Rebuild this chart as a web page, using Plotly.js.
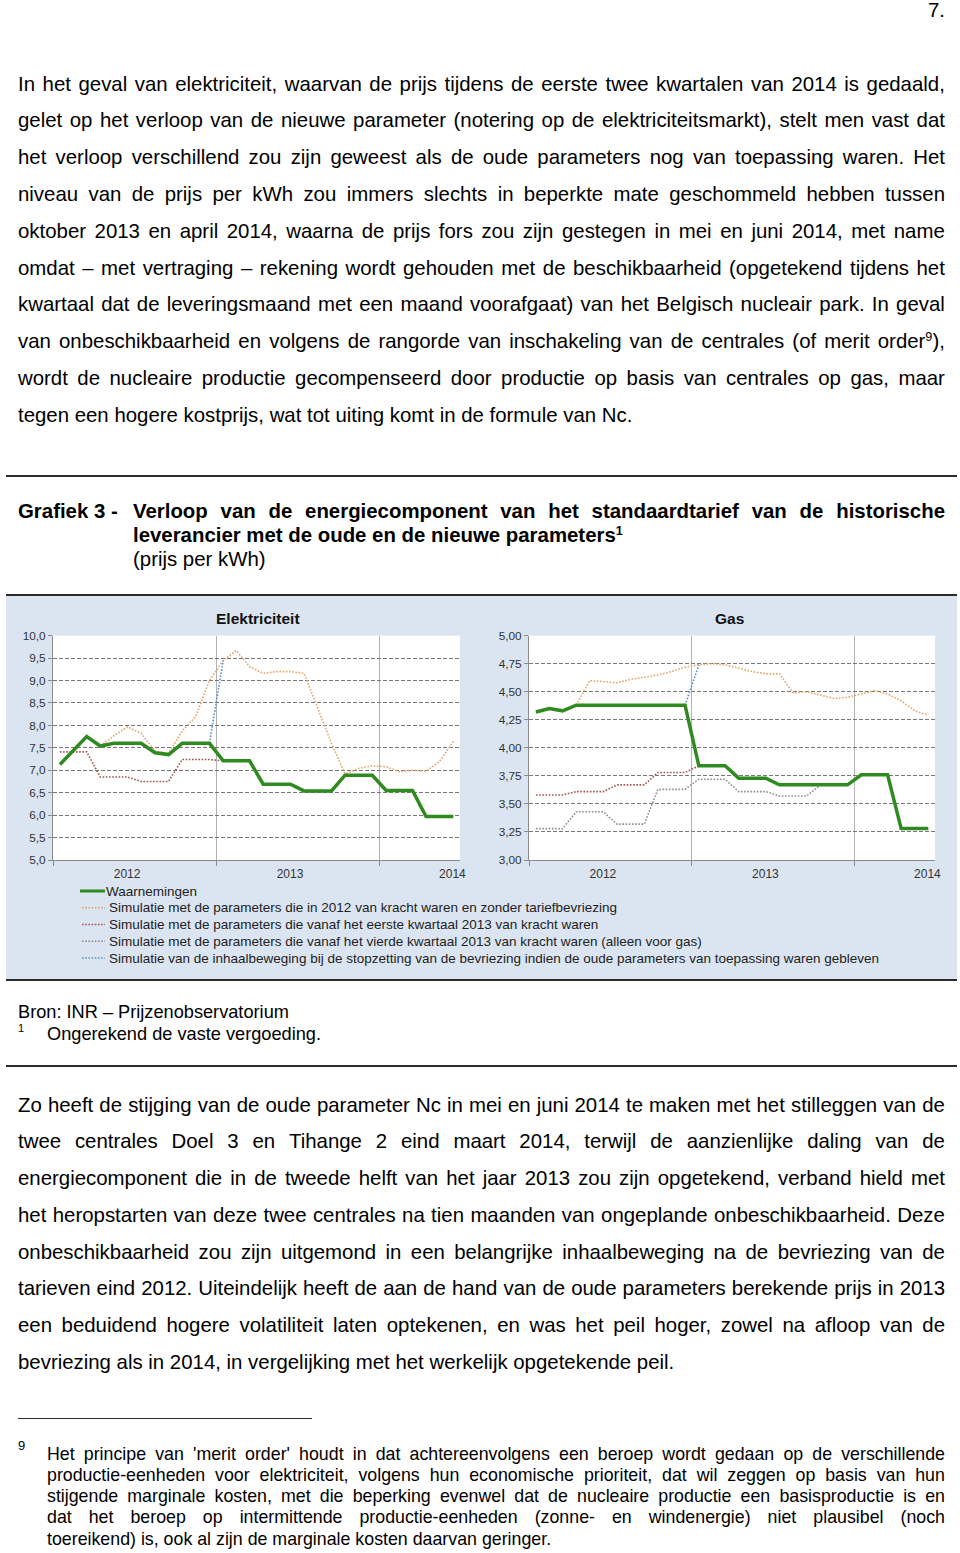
<!DOCTYPE html>
<html>
<head>
<meta charset="utf-8">
<script src="https://cdn.plot.ly/plotly-3.0.1.min.js"></script>
<style>
html,body{margin:0;padding:0;background:#fff;}
#page{position:relative;width:960px;height:1553px;overflow:hidden;font-family:"Liberation Sans",Arial,Helvetica,sans-serif;color:#000;}
.ln{position:absolute;white-space:nowrap;line-height:24px;height:24px;}
.ln sup{font-size:0.62em;vertical-align:0.55em;line-height:0;}
.rule{position:absolute;background:#2b2b2b;}
#chartbox{position:absolute;left:6px;top:594px;width:951px;height:383px;border-top:2px solid #2b2b2b;border-bottom:2px solid #2b2b2b;background:#dbe5f1;}
#chart{position:absolute;left:0;top:0;width:951px;height:383px;}
</style>
</head>
<body>
<div id="page">
  <div id="chartbox"><div id="chart"></div></div>
</div>
<script>
// ---------------- chart data ----------------
const months = ["2012-01","2012-02","2012-03","2012-04","2012-05","2012-06","2012-07","2012-08","2012-09","2012-10","2012-11","2012-12",
                "2013-01","2013-02","2013-03","2013-04","2013-05","2013-06","2013-07","2013-08","2013-09","2013-10","2013-11","2013-12",
                "2014-01","2014-02","2014-03","2014-04","2014-05","2014-06"];
const yearLabels = ["2012","2013","2014"];
const yearLabelPos = ["2012-06-15","2013-06-15","2014-06-14"];
const yearStarts = ["2012-01-01","2013-01-01","2014-01-01"];

const seriesNames = [
  "Waarnemingen",
  "Simulatie met de parameters die in 2012 van kracht waren en zonder tariefbevriezing",
  "Simulatie met de parameters die vanaf het eerste kwartaal 2013 van kracht waren",
  "Simulatie met de parameters die vanaf het vierde kwartaal 2013 van kracht waren (alleen voor gas)",
  "Simulatie van de inhaalbeweging bij de stopzetting van de bevriezing indien de oude parameters van toepassing waren gebleven"
];

// Elektriciteit
const elecObs   = [7.13,7.44,7.75,7.54,7.60,7.60,7.60,7.39,7.35,7.60,7.60,7.60,7.21,7.21,7.21,6.69,6.69,6.69,6.54,6.54,6.54,6.89,6.89,6.89,6.55,6.55,6.55,5.97,5.97,5.97];
const elecSim2012 = [null,null,null,7.54,7.77,7.97,7.82,7.43,7.38,7.88,8.20,9.00,9.45,9.67,9.31,9.16,9.20,9.20,9.16,8.38,7.60,6.92,7.04,7.10,7.08,6.97,7.00,6.98,7.20,7.64];
const elecSimQ1 = [7.41,7.41,7.41,6.85,6.85,6.85,6.75,6.75,6.75,7.24,7.24,7.24,7.21,null,null,null,null,null,null,null,null,null,null,null,null,null,null,null,null,null];
const elecSimQ4 = [null,null,null,null,null,null,null,null,null,null,null,null,null,null,null,null,null,null,null,null,null,null,null,null,null,null,null,null,null,null];
const elecCatchUp = [null,null,null,null,null,null,null,null,null,null,null,7.60,9.45,null,null,null,null,null,null,null,null,null,null,null,null,null,null,null,null,null];

// Gas
const gasObs   = [4.32,4.35,4.33,4.38,4.38,4.38,4.38,4.38,4.38,4.38,4.38,4.38,3.84,3.84,3.84,3.73,3.73,3.73,3.67,3.67,3.67,3.67,3.67,3.67,3.76,3.76,3.76,3.28,3.28,3.28];
const gasSim2012 = [null,null,null,4.38,4.60,4.59,4.58,4.61,4.63,4.65,4.68,4.72,4.74,4.75,4.74,4.71,4.68,4.66,4.66,4.49,4.50,4.47,4.44,4.45,4.48,4.51,4.48,4.42,4.33,4.29];
const gasSimQ1 = [3.58,3.58,3.58,3.61,3.61,3.61,3.67,3.67,3.67,3.78,3.78,3.78,3.84,null,null,null,null,null,null,null,null,null,null,null,null,null,null,null,null,null];
const gasSimQ4 = [3.28,3.28,3.28,3.43,3.43,3.43,3.32,3.32,3.32,3.63,3.63,3.63,3.72,3.72,3.72,3.61,3.61,3.61,3.57,3.57,3.57,3.67,null,null,null,null,null,null,null,null];
const gasCatchUp = [null,null,null,null,null,null,null,null,null,null,null,4.38,4.74,null,null,null,null,null,null,null,null,null,null,null,null,null,null,null,null,null];

// ---------------- text content ----------------
const para1Lines = [
  "In het geval van elektriciteit, waarvan de prijs tijdens de eerste twee kwartalen van 2014 is gedaald,",
  "gelet op het verloop van de nieuwe parameter (notering op de elektriciteitsmarkt), stelt men vast dat",
  "het verloop verschillend zou zijn geweest als de oude parameters nog van toepassing waren. Het",
  "niveau van de prijs per kWh zou immers slechts in beperkte mate geschommeld hebben tussen",
  "oktober 2013 en april 2014, waarna de prijs fors zou zijn gestegen in mei en juni 2014, met name",
  "omdat – met vertraging – rekening wordt gehouden met de beschikbaarheid (opgetekend tijdens het",
  "kwartaal dat de leveringsmaand met een maand voorafgaat) van het Belgisch nucleair park. In geval",
  "van onbeschikbaarheid en volgens de rangorde van inschakeling van de centrales (of merit order<sup>9</sup>),",
  "wordt de nucleaire productie gecompenseerd door productie op basis van centrales op gas, maar",
  "tegen een hogere kostprijs, wat tot uiting komt in de formule van Nc."
];
const para2Lines = [
  "Zo heeft de stijging van de oude parameter Nc in mei en juni 2014 te maken met het stilleggen van de",
  "twee centrales Doel 3 en Tihange 2 eind maart 2014, terwijl de aanzienlijke daling van de",
  "energiecomponent die in de tweede helft van het jaar 2013 zou zijn opgetekend, verband hield met",
  "het heropstarten van deze twee centrales na tien maanden van ongeplande onbeschikbaarheid. Deze",
  "onbeschikbaarheid zou zijn uitgemond in een belangrijke inhaalbeweging na de bevriezing van de",
  "tarieven eind 2012. Uiteindelijk heeft de aan de hand van de oude parameters berekende prijs in 2013",
  "een beduidend hogere volatiliteit laten optekenen, en was het peil hoger, zowel na afloop van de",
  "bevriezing als in 2014, in vergelijking met het werkelijk opgetekende peil."
];
const footLines = [
  "Het principe van 'merit order' houdt in dat achtereenvolgens een beroep wordt gedaan op de verschillende",
  "productie-eenheden voor elektriciteit, volgens hun economische prioriteit, dat wil zeggen op basis van hun",
  "stijgende marginale kosten, met die beperking evenwel dat de nucleaire productie een basisproductie is en",
  "dat het beroep op intermittende productie-eenheden (zonne- en windenergie) niet plausibel (noch",
  "toereikend) is, ook al zijn de marginale kosten daarvan geringer."
];

// ---------------- page text ----------------
const page = document.getElementById('page');
function addLine(html, x, cy, w, size, justify, bold, lh) {
  const d = document.createElement('div');
  d.className = 'ln';
  lh = lh || 24;
  d.style.left = x + 'px';
  d.style.top = (cy - lh / 2 - 0.5) + 'px';
  d.style.height = lh + 'px';
  d.style.lineHeight = lh + 'px';
  d.style.width = w + 'px';
  d.style.fontSize = size + 'px';
  if (bold) d.style.fontWeight = 'bold';
  if (justify) {
    d.style.display = 'flex';
    d.style.justifyContent = 'space-between';
    html.split(' ').forEach(function (wd) {
      const s = document.createElement('span');
      s.innerHTML = wd;
      d.appendChild(s);
    });
  } else {
    d.innerHTML = html;
  }
  page.appendChild(d);
  return d;
}
function addRule(x, y, w, h) {
  const r = document.createElement('div');
  r.className = 'rule';
  r.style.left = x + 'px'; r.style.top = y + 'px';
  r.style.width = w + 'px'; r.style.height = h + 'px';
  page.appendChild(r);
}

const BODY = 20.4;
const pn = addLine("7.", 880, 10, 65, BODY, false, false); pn.style.textAlign = 'right';
para1Lines.forEach(function (t, i) {
  addLine(t, 18, 84 + i * 36.8, 927, BODY, i < para1Lines.length - 1, false);
});
addRule(6, 475, 951, 2);
addLine("Grafiek 3 -", 18, 511, 112, BODY, false, true, 22);
addLine("Verloop van de energiecomponent van het standaardtarief van de historische", 133, 511, 812, BODY, true, true, 22);
addLine("leverancier met de oude en de nieuwe parameters<sup>1</sup>", 133, 535, 812, BODY, false, true, 22);
addLine("(prijs per kWh)", 133, 559, 812, BODY, false, false, 22);

addLine("Bron: INR – Prijzenobservatorium", 18, 1012, 600, 18.2, false, false, 20);
addLine("1", 18, 1029, 10, 11, false, false, 11);
addLine("Ongerekend de vaste vergoeding.", 47, 1034, 600, 18.2, false, false, 20);
addRule(6, 1065, 951, 2);
para2Lines.forEach(function (t, i) {
  addLine(t, 18, 1105 + i * 36.75, 927, BODY, i < para2Lines.length - 1, false);
});
addRule(18, 1418, 294, 1);
addLine("9", 18, 1446, 10, 13, false, false, 13);
footLines.forEach(function (t, i) {
  addLine(t, 47, 1454 + i * 21.25, 898, 17.8, i < footLines.length - 1, false, 20);
});

// ---------------- chart ----------------
const W = 951, H = 383, TOP = 596, LEFT = 6;
function dx(x) { return (x - LEFT) / W; }
function dy(y) { return 1 - (y - TOP) / H; }

const colors = ["#2f8a1f", "#e2a66a", "#a3544f", "#8e8e8e", "#5f8fc2"];
const widths = [3.5, 1.6, 1.6, 1.6, 1.6];
const dashes = ["solid", "1.6px,1.6px", "1.6px,1.6px", "1.6px,1.6px", "1.6px,1.6px"];

function tr(y, k, xa, ya) {
  return {
    type: 'scatter', mode: 'lines', x: months, y: y,
    xperiod: 'M1', xperiodalignment: 'middle',
    xaxis: xa, yaxis: ya, name: seriesNames[k], showlegend: false,
    connectgaps: false, hoverinfo: 'skip',
    line: { color: colors[k], width: widths[k], dash: dashes[k] }
  };
}
const data = [
  tr(elecSim2012, 1, 'x', 'y'), tr(elecSimQ1, 2, 'x', 'y'), tr(elecSimQ4, 3, 'x', 'y'), tr(elecCatchUp, 4, 'x', 'y'), tr(elecObs, 0, 'x', 'y'),
  tr(gasSim2012, 1, 'x2', 'y2'), tr(gasSimQ1, 2, 'x2', 'y2'), tr(gasSimQ4, 3, 'x2', 'y2'), tr(gasCatchUp, 4, 'x2', 'y2'), tr(gasObs, 0, 'x2', 'y2')
];

function xAxis(d0, d1, anchor) {
  return {
    type: 'date', domain: [dx(d0), dx(d1)], anchor: anchor,
    range: ['2012-01-01', '2014-07-01'], fixedrange: true,
    tickmode: 'array', tickvals: yearLabelPos, ticktext: yearLabels,
    ticks: 'outside', ticklen: 3, tickcolor: 'rgba(0,0,0,0)',
    showgrid: false, zeroline: false,
    showline: true, linecolor: '#8a8a8a', linewidth: 1,
    tickfont: { size: 12, color: '#333' },
    minor: { tickmode: 'array', tickvals: yearStarts, ticks: 'outside', ticklen: 5, tickcolor: '#8a8a8a',
             showgrid: true, gridcolor: '#b2b2b2', gridwidth: 1 }
  };
}
function yAxis(lo, hi, step, fmt, anchor) {
  return {
    domain: [dy(860), dy(635.7)], anchor: anchor, range: [lo, hi], fixedrange: true,
    tickmode: 'linear', tick0: lo, dtick: step, tickformat: fmt,
    showgrid: true, gridcolor: '#767676', gridwidth: 1, griddash: '4px,2px',
    zeroline: false, showline: true, linecolor: '#8a8a8a', linewidth: 1,
    ticks: 'outside', ticklen: 4, tickcolor: '#8a8a8a',
    tickfont: { size: 11.8, color: '#333' }
  };
}

const annotations = [
  { text: '<b>Elektriciteit</b>', x: dx(258), y: dy(619), xref: 'paper', yref: 'paper', xanchor: 'center', yanchor: 'middle', showarrow: false, font: { size: 15.5, color: '#111' } },
  { text: '<b>Gas</b>', x: dx(729), y: dy(619), xref: 'paper', yref: 'paper', xanchor: 'center', yanchor: 'middle', showarrow: false, font: { size: 15.5, color: '#111' } }
];
const shapes = [];
seriesNames.forEach(function (nm, k) {
  const cy = 891 + k * 16.75;
  shapes.push({ type: 'line', xref: 'paper', yref: 'paper', x0: dx(k === 0 ? 80 : 82), x1: dx(105), y0: dy(cy), y1: dy(cy),
                line: { color: colors[k], width: k === 0 ? 3 : 1.6, dash: dashes[k] } });
  annotations.push({ text: nm, x: dx(k === 0 ? 104 : 107), y: dy(cy), xref: 'paper', yref: 'paper', xanchor: 'left', yanchor: 'middle',
                     showarrow: false, font: { size: 13.5, color: '#222' } });
});

const layout = {
  width: W, height: H, margin: { l: 0, r: 0, t: 0, b: 0, pad: 0 },
  paper_bgcolor: '#dbe5f1', plot_bgcolor: '#ffffff',
  separators: ',.', showlegend: false,
  font: { family: 'Liberation Sans, Arial, sans-serif', size: 12, color: '#333' },
  xaxis: xAxis(53, 460, 'y'), yaxis: yAxis(5, 10, 0.5, '.1f', 'x'),
  xaxis2: xAxis(529, 935, 'y2'), yaxis2: yAxis(3, 5, 0.25, '.2f', 'x2'),
  annotations: annotations, shapes: shapes
};

Plotly.newPlot('chart', data, layout, { staticPlot: true, displayModeBar: false });
</script>
</body>
</html>
